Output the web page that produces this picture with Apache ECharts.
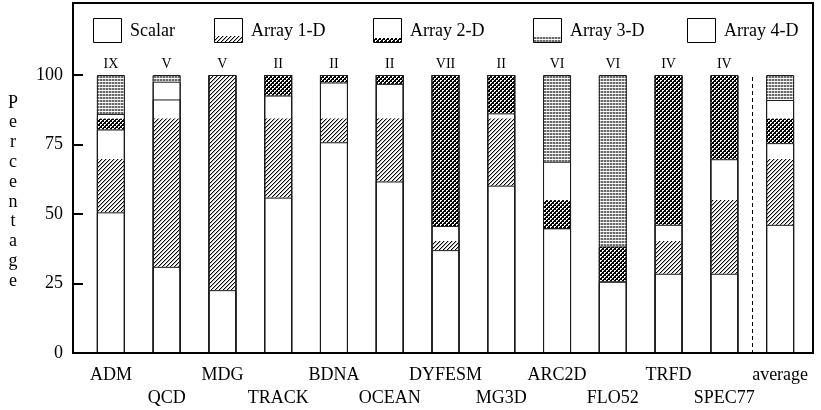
<!DOCTYPE html>
<html>
<head>
<meta charset="utf-8">
<script src="https://cdn.jsdelivr.net/npm/echarts@6/dist/echarts.min.js"></script>
<style>
  html, body { margin: 0; padding: 0; background: #fff; }
  #chart { width: 821px; height: 410px; }
</style>
</head>
<body>
<div id="chart"></div>
<script>
// Benchmarks and the phase count printed over each bar
const categories = ['ADM', 'QCD', 'MDG', 'TRACK', 'BDNA', 'OCEAN', 'DYFESM', 'MG3D', 'ARC2D', 'FLO52', 'TRFD', 'SPEC77', 'average'];
const phaseLabels = ['IX', 'V', 'V', 'II', 'II', 'II', 'VII', 'II', 'VI', 'VI', 'IV', 'IV', ''];

// Share of references (percent) by dimensionality
const scalar  = [50.6, 31.0, 22.6, 55.9, 75.8, 61.7, 37.0, 60.2, 44.9, 25.7, 28.5, 28.5, 46.1];
const array1D = [29.8, 60.2, 77.4, 36.7, 21.5, 35.1, 8.7, 26.0, 0, 0, 17.6, 41.2, 29.4];
const array2D = [5.6, 6.4, 0, 7.4, 2.7, 3.2, 54.3, 13.8, 23.9, 12.6, 53.9, 30.3, 15.5];
const array3D = [14.0, 2.4, 0, 0, 0, 0, 0, 0, 31.2, 61.7, 0, 0, 9.0];
const array4D = [0, 0, 0, 0, 0, 0, 0, 0, 0, 0, 0, 0, 0];

// Part of each 1-D / 2-D block that carries the fill pattern
const array1DShaded = [19.2, 53.4, 77.4, 28.5, 8.6, 22.7, 3.3, 24.2, 0, 0, 11.8, 26.5, 23.7];
const array2DShaded = [4.0, 0, 0, 7.4, 2.7, 3.2, 54.3, 13.8, 10.1, 12.6, 53.9, 30.3, 8.9];

const yTicks = [0, 25, 50, 75, 100];

// ---- fill patterns ----
function makeTile(w, h, paint) {
  const c = document.createElement('canvas');
  c.width = w; c.height = h;
  const ctx = c.getContext('2d');
  ctx.fillStyle = '#fff';
  ctx.fillRect(0, 0, w, h);
  paint(ctx);
  return c;
}
const hatchTile = makeTile(4, 4, ctx => {
  for (let x = 0; x < 4; x++) for (let y = 0; y < 4; y++) {
    const d = (x + y) % 4;
    if (d === 0) { ctx.fillStyle = '#000'; ctx.fillRect(x, y, 1, 1); }
    else if (d === 1) { ctx.fillStyle = '#b0b0b0'; ctx.fillRect(x, y, 1, 1); }
  }
});
const checkTile = makeTile(4, 4, ctx => {
  ctx.fillStyle = '#000';
  ctx.fillRect(0, 0, 4, 4);
  ctx.fillStyle = '#fff';
  [[0, 0], [1, 0], [0, 1], [2, 2], [3, 2], [2, 3]].forEach(p => ctx.fillRect(p[0], p[1], 1, 1));
});
const gridTile = makeTile(3, 3, ctx => {
  ctx.fillStyle = '#6a6a6a';
  ctx.fillRect(1, 1, 2, 2);
  ctx.fillStyle = '#bdbdbd';
  ctx.fillRect(0, 1, 1, 2);
});
const hatchFill = { image: hatchTile, repeat: 'repeat' };
const checkFill = { image: checkTile, repeat: 'repeat' };
const gridFill = { image: gridTile, repeat: 'repeat' };

const FONT = 'Liberation Serif';
const BAR_W = 28;

const minus = (a, b) => a.map((v, i) => +(v - b[i]).toFixed(2));
const array1DPlain = minus(array1D, array1DShaded);
const array2DPlain = minus(array2D, array2DShaded);

// cumulative block boundaries (outlined rectangles from 0 up to each level)
const level1 = scalar.slice();
const level2 = level1.map((v, i) => v + array1D[i]);
const level3 = level2.map((v, i) => v + array2D[i]);
const level4 = level3.map((v, i) => v + array3D[i] + array4D[i]);

function fillSeries(name, data, color) {
  return {
    name, type: 'bar', stack: 'total', data,
    barWidth: BAR_W, barGap: '-100%', silent: true,
    itemStyle: { color },
    z: 2
  };
}
function outlineSeries(name, data, withLabel) {
  const s = {
    name, type: 'bar', data,
    barWidth: BAR_W, barGap: '-100%', silent: true,
    itemStyle: { color: 'rgba(0,0,0,0)', borderColor: '#1a1a1a', borderWidth: 1 },
    z: 3
  };
  if (withLabel) {
    s.label = {
      show: true, position: 'top', distance: 4,
      fontFamily: FONT, fontSize: 14, color: '#000',
      formatter: p => phaseLabels[p.dataIndex]
    };
  }
  return s;
}

const chart = echarts.init(document.getElementById('chart'), null, { renderer: 'canvas' });

chart.setOption({
  animation: false,
  backgroundColor: '#fff',
  grid: { left: 83, right: 13, top: 75, bottom: 57, containLabel: false },
  xAxis: {
    type: 'category',
    data: categories,
    axisLine: { show: false },
    axisTick: { show: false },
    axisLabel: {
      interval: 0, margin: 11,
      fontFamily: FONT, fontSize: 18, color: '#000', lineHeight: 23,
      formatter: (v, i) => (i % 2 === 1 ? '\n' + v : v)
    },
    splitLine: { show: false }
  },
  yAxis: {
    type: 'value',
    min: yTicks[0], max: yTicks[yTicks.length - 1], interval: 25,
    offset: 10,
    axisLine: { show: false },
    axisTick: { show: true, inside: true, length: 10, lineStyle: { color: '#000', width: 2 } },
    axisLabel: { margin: 10, fontFamily: FONT, fontSize: 18, color: '#000' },
    splitLine: { show: false }
  },
  series: [
    fillSeries('Scalar', scalar, '#fff'),
    fillSeries('Array 1-D', array1DShaded, hatchFill),
    fillSeries('Array 1-D plain', array1DPlain, '#fff'),
    fillSeries('Array 2-D', array2DShaded, checkFill),
    fillSeries('Array 2-D plain', array2DPlain, '#fff'),
    fillSeries('Array 3-D', array3D, gridFill),
    fillSeries('Array 4-D', array4D, '#fff'),
    outlineSeries('edge 1', level1, false),
    outlineSeries('edge 2', level2, false),
    outlineSeries('edge 3', level3, false),
    outlineSeries('edge 4', level4, true)
  ]
});

// separator between the benchmarks and the average
const xA = chart.convertToPixel({ xAxisIndex: 0 }, categories[categories.length - 2]);
const xB = chart.convertToPixel({ xAxisIndex: 0 }, categories[categories.length - 1]);
const sepX = Math.round((xA + xB) / 2) + 0.5;
const yTop = chart.convertToPixel({ yAxisIndex: 0 }, 100);
const yBottom = chart.convertToPixel({ yAxisIndex: 0 }, 0);

// legend entries: box with a patterned strip along its bottom
const legendItems = [
  { text: 'Scalar', x: 93, fill: null, strip: 0 },
  { text: 'Array 1-D', x: 214, fill: hatchFill, strip: 6 },
  { text: 'Array 2-D', x: 373, fill: checkFill, strip: 4 },
  { text: 'Array 3-D', x: 533, fill: gridFill, strip: 6 },
  { text: 'Array 4-D', x: 687, fill: null, strip: 0 }
];
const LEG_Y = 18, LEG_H = 24;
const legendGraphics = [];
legendItems.forEach(it => {
  if (it.fill) {
    legendGraphics.push({
      type: 'rect', x: it.x, y: LEG_Y + LEG_H - it.strip, silent: true,
      shape: { x: 0, y: 0, width: BAR_W, height: it.strip },
      style: { fill: it.fill }
    });
  }
  legendGraphics.push({
    type: 'rect', silent: true,
    shape: { x: it.x + 0.5, y: LEG_Y + 0.5, width: BAR_W, height: LEG_H },
    style: { fill: 'none', stroke: '#000', lineWidth: 1 }
  });
  legendGraphics.push({
    type: 'text', x: it.x + 37, y: LEG_Y + LEG_H / 2 + 1, silent: true,
    style: { text: it.text, fontFamily: FONT, fontSize: 18, fill: '#000', verticalAlign: 'middle', align: 'left' }
  });
});

chart.setOption({
  graphic: [
    {
      type: 'rect', silent: true, z: 10,
      shape: { x: 73, y: 3, width: 740, height: 350 },
      style: { fill: 'none', stroke: '#000', lineWidth: 2 }
    },
    {
      type: 'line', silent: true, z: 5,
      shape: { x1: sepX, y1: yTop + 2, x2: sepX, y2: yBottom },
      style: { stroke: '#000', lineWidth: 1, lineDash: [4, 3] }
    },
    {
      type: 'text', x: 13, y: 93, silent: true,
      style: {
        text: 'Percentage'.split('').join('\n'),
        fontFamily: FONT, fontSize: 18, lineHeight: 19.8,
        fill: '#000', align: 'center', verticalAlign: 'top'
      }
    }
  ].concat(legendGraphics)
});
</script>
</body>
</html>
